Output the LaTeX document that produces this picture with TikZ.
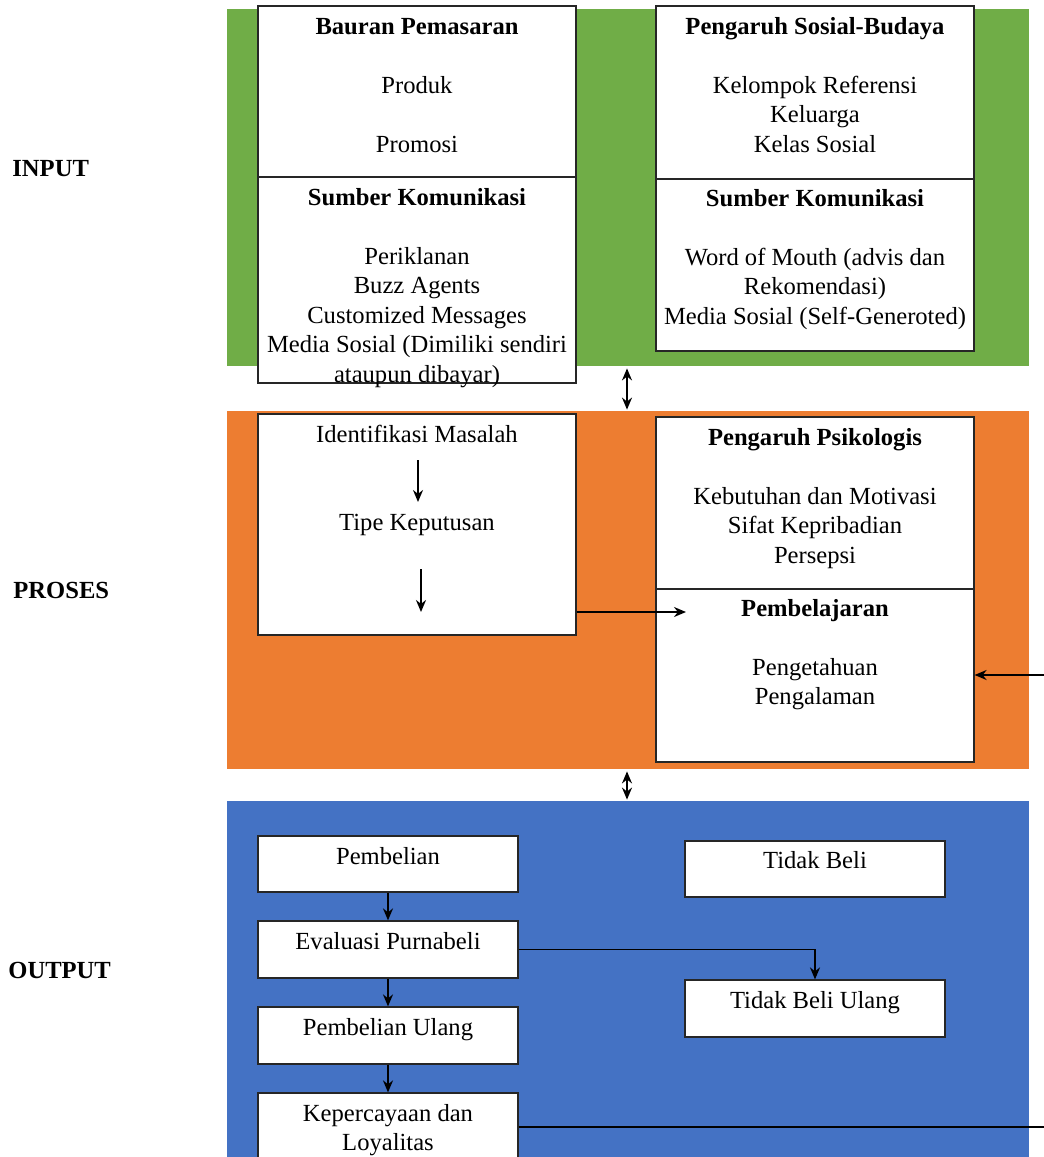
\documentclass[tikz,border=0pt]{standalone}
\usepackage{fontspec}
\setmainfont{Liberation Serif}
\usetikzlibrary{fit,arrows.meta}
\definecolor{cgreen}{HTML}{70AD47}
\definecolor{corange}{HTML}{ED7D31}
\definecolor{cblue}{HTML}{4472C4}
\begin{document}
\begin{tikzpicture}[x=0.5pt,y=-0.5pt,
  panel/.style={inner sep=0pt, draw=none},
  box/.style={draw=black!85, line width=0.6pt, fill=white, inner sep=0pt},
  txt/.style={font=\fontsize{12.3}{14.75}\selectfont, align=center, inner sep=0pt, anchor=north, yshift=-0.5pt},
  lbl/.style={font=\fontsize{12.3}{14.75}\selectfont\bfseries, inner sep=0pt, anchor=west},
  arr/.style={-{Stealth[length=6pt,width=5pt]}, line width=0.9pt},
  darr/.style={{Stealth[length=6pt,width=5pt]}-{Stealth[length=6pt,width=5pt]}, line width=0.9pt},
  ln/.style={line width=0.9pt}]
\clip (0,0) rectangle (1044,1157);
\fill[white] (0,0) rectangle (1044,1157);
% panels
\node[panel, fill=cgreen, fit={(227,9) (1029,366)}] (pin) {};
\node[panel, fill=corange, fit={(227,411) (1029,769)}] (ppr) {};
\node[panel, fill=cblue, fit={(227,801) (1029,1170)}] (pout) {};
% side labels
\node[lbl] (lin) at (12,169) {INPUT};
\node[lbl] (lpr) at (13,590) {PROSES};
\node[lbl] (lout) at (8,970) {OUTPUT};
% INPUT boxes
\node[box, fit={(258,6) (576,177)}] (b1a) {};
\node[box, fit={(258,177) (576,383)}] (b1b) {};
\node[box, fit={(656,6) (974,179)}] (b2a) {};
\node[box, fit={(656,179) (974,351)}] (b2b) {};
\node[txt] (t1a) at (417,12.4) {\strut\textbf{Bauran Pemasaran}\\ \\ Produk\\ \\ Promosi};
\node[txt] (t1b) at (417,183.4) {\strut\textbf{Sumber Komunikasi}\\ \\ Periklanan\\ Buzz Agents\\ Customized Messages\\ Media Sosial (Dimiliki sendiri\\ ataupun dibayar)};
\node[txt] (t2a) at (815,12.4) {\strut\textbf{Pengaruh Sosial-Budaya}\\ \\ Kelompok Referensi\\ Keluarga\\ Kelas Sosial};
\node[txt] (t2b) at (815,184.4) {\strut\textbf{Sumber Komunikasi}\\ \\ Word of Mouth (advis dan\\ Rekomendasi)\\ Media Sosial (Self-Generoted)};
% PROSES boxes
\node[box, fit={(258,414) (576,635)}] (b3) {};
\node[box, fit={(656,417) (974,589)}] (b4a) {};
\node[box, fit={(656,589) (974,762)}] (b4b) {};
\node[txt] (t3a) at (417,420.4) {\strut Identifikasi Masalah};
\node[txt] (t3b) at (417,508.4) {\strut Tipe Keputusan};
\node[txt] (t4a) at (815,423.4) {\strut\textbf{Pengaruh Psikologis}\\ \\ Kebutuhan dan Motivasi\\ Sifat Kepribadian\\ Persepsi};
\node[txt] (t4b) at (815,594.4) {\strut\textbf{Pembelajaran}\\ \\ Pengetahuan\\ Pengalaman};
% OUTPUT boxes
\node[box, fit={(258,836) (518,892)}] (o1) {};
\node[box, fit={(258,921) (518,978)}] (o2) {};
\node[box, fit={(258,1007) (518,1064)}] (o3) {};
\node[box, fit={(258,1093) (518,1180)}] (o4) {};
\node[box, fit={(685,841) (945,897)}] (o5) {};
\node[box, fit={(685,980) (945,1037)}] (o6) {};
\node[txt] (to1) at (388,842.4) {\strut Pembelian};
\node[txt] (to2) at (388,927.4) {\strut Evaluasi Purnabeli};
\node[txt] (to3) at (388,1013.4) {\strut Pembelian Ulang};
\node[txt] (to4) at (388,1099.4) {\strut Kepercayaan dan\\ Loyalitas};
\node[txt] (to5) at (815,846.4) {\strut Tidak Beli};
\node[txt] (to6) at (815,986.4) {\strut Tidak Beli Ulang};
% connectors
\coordinate (m1) at (627,0);
\draw[darr] ([yshift=-1pt]pin.south -| m1) -- ([yshift=0.5pt]ppr.north -| m1);
\draw[darr] ([yshift=-1pt]ppr.south -| m1) -- ([yshift=0.5pt]pout.north -| m1);
\coordinate (c1s) at (418,460);
\coordinate (c1e) at (418,502);
\coordinate (c2s) at (421,569);
\coordinate (c2e) at (421,612);
\draw[arr] (c1s) -- (c1e);
\draw[arr] (c2s) -- (c2e);
\coordinate (a1) at (686,612);
\draw[arr] (b3.east |- a1) -- (a1);
\coordinate (r1) at (1044,675);
\draw[arr] (r1) -- (b4b.east |- r1);
\draw[arr] (o1) -- (o2);
\draw[arr] (o2) -- (o3);
\draw[arr] (o3.south) -- (o4.north);
\draw[arr] (o2.east) -| (o6.north);
\coordinate (r2) at (1044,1127);
\draw[ln] (o4.east |- r2) -- (r2);
\end{tikzpicture}
\end{document}
